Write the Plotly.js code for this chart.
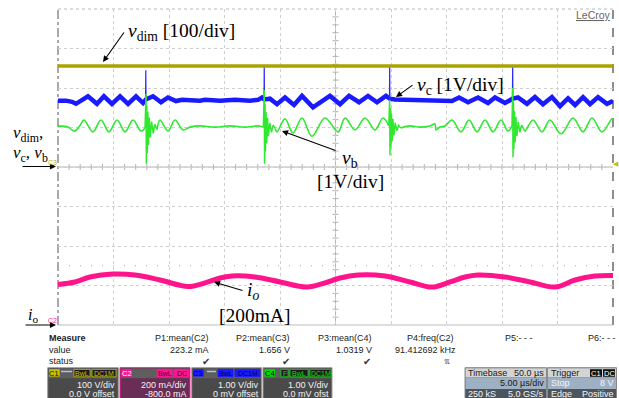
<!DOCTYPE html>
<html><head><meta charset="utf-8">
<script src="https://cdn.plot.ly/plotly-3.0.1.min.js"></script>
<style>html,body{margin:0;padding:0;background:#fff;}#chart{width:619px;height:398px;}</style>
</head><body><div id="chart"></div>
<script>
// ---------------- data (time in microseconds, values in channel units) ----------------
// C1: v_dim (V), 100 V/div, 0 V offset
const vdimT = [0, 10, 20, 30, 40, 50];
const vdimV = [256, 257, 256, 256, 257, 256];

// C3: v_c (V), 1 V/div
const vcT = [0, 0.72, 1.26, 1.62, 2.70, 3.51, 4.14, 4.86, 5.59, 6.31, 7.03, 7.66, 7.91, 8.56, 9.28, 9.91, 10.63, 11.17, 12.79, 13.24, 14.59, 15.95, 17.30, 18.02, 18.38, 18.58, 19.10, 19.73, 20.45, 21.26, 21.98, 22.97, 24.50, 25.41, 26.22, 27.12, 27.93, 28.74, 29.55, 29.88, 30.36, 31.71, 33.51, 34.86, 35.50, 36.13, 36.94, 37.84, 38.74, 39.37, 40.27, 40.96, 41.44, 42.25, 42.97, 43.69, 44.50, 45.23, 45.95, 46.58, 47.30, 47.93, 48.65, 49.46, 50];
const vcV = [1.68, 1.68, 1.65, 1.60, 1.79, 1.60, 1.79, 1.60, 1.79, 1.60, 1.79, 1.62, 1.71, 1.79, 1.64, 1.76, 1.67, 1.70, 1.68, 1.70, 1.68, 1.70, 1.68, 1.70, 1.76, 1.71, 1.73, 1.59, 1.76, 1.57, 1.80, 1.51, 1.80, 1.59, 1.80, 1.64, 1.80, 1.64, 1.80, 1.73, 1.71, 1.70, 1.71, 1.70, 1.67, 1.76, 1.64, 1.76, 1.62, 1.76, 1.62, 1.73, 1.76, 1.60, 1.77, 1.59, 1.77, 1.54, 1.74, 1.57, 1.77, 1.59, 1.77, 1.60, 1.67];
const vcSpikeT = [7.89, 7.91, 7.93, null, 18.56, 18.58, 18.60, null, 29.86, 29.88, 29.90, null, 40.94, 40.96, 40.98];
const vcSpikeV = [1.72, 2.45, 1.72, null, 1.72, 2.55, 1.72, null, 1.72, 2.55, 1.72, null, 1.72, 2.58, 1.72];

// C4: v_b (V), 1 V/div
const vbT = [0, 0.90, 1.26, 1.53, 1.98, 2.34, 3.15, 3.87, 4.59, 5.32, 6.04, 6.76, 7.48, 7.84, null, 8.93, 9.19, 9.91, 10.54, 11.26, 11.89, 12.79, 14.14, 15.50, 16.85, 18.02, 18.50, null, 19.58, 19.73, 20.45, 21.17, 21.98, 22.88, 24.05, 25.23, 25.86, 26.76, 27.66, 28.56, 29.28, 29.80, null, 30.88, 31.71, 32.61, 33.51, 33.96, 34.05, 34.41, 34.86, 35.50, 36.31, 37.03, 37.75, 38.47, 39.19, 39.91, 40.54, 40.90, null, 41.96, 42.07, 42.79, 43.60, 44.32, 45.32, 46.40, 47.30, 48.11, 49.01, 49.91, 50];
const vbV = [1.04, 1.01, 0.94, 0.91, 1.05, 1.19, 0.89, 1.19, 0.89, 1.19, 0.89, 1.19, 0.91, 0.99, null, 0.95, 1.19, 0.91, 1.19, 0.94, 1.01, 1.04, 1.01, 1.04, 1.01, 1.04, 1.01, null, 0.97, 0.89, 1.22, 0.86, 1.24, 0.78, 1.24, 0.89, 1.24, 0.94, 1.24, 0.94, 1.24, 1.04, null, 0.99, 1.04, 1.01, 1.04, 1.09, 0.94, 1.01, 1.04, 1.19, 0.89, 1.19, 0.89, 1.19, 0.89, 1.19, 0.91, 1.04, null, 0.96, 0.91, 1.19, 0.89, 1.19, 0.84, 1.24, 0.89, 1.24, 0.89, 1.22, 1.20];
const vbRingT = [7.84, 7.93, 7.96, 8.00, 8.04, 8.09, 8.15, 8.22, 8.31, 8.43, 8.58, 8.73, 8.93, null, 18.50, 18.58, 18.61, 18.65, 18.69, 18.74, 18.80, 18.87, 18.96, 19.08, 19.23, 19.38, 19.58, null, 29.80, 29.88, 29.91, 29.95, 29.99, 30.04, 30.10, 30.17, 30.26, 30.38, 30.53, 30.68, 30.88, null, 40.90, 40.96, 40.99, 41.03, 41.07, 41.12, 41.18, 41.25, 41.34, 41.46, 41.61, 41.76, 41.96];
const vbRingV = [0.99, 1.85, 0.08, 1.55, 0.35, 1.40, 0.55, 1.25, 0.75, 1.15, 0.85, 1.08, 0.95, null, 1.01, 1.95, 0.08, 1.60, 0.40, 1.40, 0.60, 1.25, 0.78, 1.12, 0.88, 1.06, 0.97, null, 1.04, 1.70, 0.30, 1.50, 0.50, 1.35, 0.65, 1.22, 0.80, 1.12, 0.92, 1.05, 0.99, null, 1.04, 2.00, 0.25, 1.65, 0.45, 1.42, 0.62, 1.27, 0.78, 1.14, 0.88, 1.06, 0.96];

// C2: i_o (mA), 200 mA/div, -800 mA offset
const ioT = [0, 1.53, 2.88, 4.95, 6.94, 9.19, 11.71, 13.24, 14.59, 15.68, 17.75, 20.00, 22.43, 24.05, 25.41, 27.03, 29.46, 31.71, 33.69, 35.32, 36.67, 37.84, 40.27, 42.52, 44.77, 46.58, 48.38, 50];
const ioV = [205, 218, 243, 258, 253, 228, 195, 213, 238, 248, 243, 218, 192, 213, 238, 253, 248, 218, 192, 218, 243, 253, 243, 218, 192, 228, 248, 251];

// measurement table
const measHeaders = ['P1:mean(C2)', 'P2:mean(C3)', 'P3:mean(C4)', 'P4:freq(C2)', 'P5:- - -', 'P6:- - -'];
const measValues = ['223.2 mA', '1.656 V', '1.0319 V', '91.412692 kHz', '', ''];

// ---------------- layout helpers (screen pixel -> paper) ----------------
const L = 58, R = 613, T = 9, B = 325;
function px(X) { return (X - L) / (R - L); }
function py(Y) { return (B - Y) / (B - T); }
const annotations = [];
const shapes = [];
const SANS = 'Liberation Sans, Arial, sans-serif';
const SERIF = 'Liberation Serif, Times New Roman, serif';
function txt(text, X, Y, o) {
  const a = Object.assign({ text: text, x: px(X), y: py(Y), xref: 'paper', yref: 'paper', showarrow: false,
    xanchor: 'left', yanchor: 'middle', borderpad: 0,
    font: { family: SANS, size: 9, color: '#222' } }, o || {});
  annotations.push(a);
}
function rect(x0, y0, x1, y1, fill, line, lw) {
  shapes.push({ type: 'rect', xref: 'paper', yref: 'paper', x0: px(x0), x1: px(x1), y0: py(y1), y1: py(y0),
    fillcolor: fill, line: { color: line || fill, width: lw === undefined ? 1 : lw }, layer: 'above' });
}
function hline(x0, x1, Y, color, width, dash) {
  shapes.push({ type: 'line', xref: 'paper', yref: 'paper', x0: px(x0), x1: px(x1), y0: py(Y), y1: py(Y),
    line: { color: color, width: width, dash: dash || 'solid' }, layer: 'above' });
}
function arrow(hx, hy, tx, ty) {
  annotations.push({ text: '', x: px(hx), y: py(hy), xref: 'paper', yref: 'paper', showarrow: true,
    ax: tx - hx, ay: ty - hy, arrowhead: 2, arrowsize: 1.1, arrowwidth: 1.1, arrowcolor: '#000', standoff: 0 });
}

// ---------------- graticule ----------------
shapes.push({ type: 'line', xref: 'paper', yref: 'paper', x0: 0, x1: 0, y0: 0, y1: 1, line: { color: '#555', width: 1, dash: 'dashdot' }, layer: 'below' });
shapes.push({ type: 'line', xref: 'paper', yref: 'paper', x0: 1, x1: 1, y0: 0, y1: 1, line: { color: '#444', width: 1.2, dash: 'dash' }, layer: 'below' });
shapes.push({ type: 'line', xref: 'paper', yref: 'paper', x0: 0, x1: 1, y0: 1, y1: 1, line: { color: '#bbb', width: 1, dash: 'dot' }, layer: 'below' });
shapes.push({ type: 'line', xref: 'paper', yref: 'paper', x0: 0, x1: 1, y0: 0, y1: 0, line: { color: '#bbb', width: 1 }, layer: 'below' });
shapes.push({ type: 'line', xref: 'paper', yref: 'paper', x0: 0, x1: 1, y0: 0.5, y1: 0.5, line: { color: '#b4b4b4', width: 1 }, layer: 'below' });
shapes.push({ type: 'line', xref: 'paper', yref: 'paper', x0: 0.5, x1: 0.5, y0: 0, y1: 1, line: { color: '#b4b4b4', width: 1 }, layer: 'below' });
shapes.push({ type: 'line', xref: 'paper', yref: 'paper', x0: 0, x1: 1, y0: 0.1875, y1: 0.1875, line: { color: '#aaa', width: 1, dash: '1px,10px' }, layer: 'below' });
for (let i = 1; i < 50; i++) {
  shapes.push({ type: 'line', xref: 'paper', yref: 'paper', x0: i / 50, x1: i / 50, y0: 0.5 - 3 / 316, y1: 0.5 + 3 / 316, line: { color: '#b4b4b4', width: 1 }, layer: 'below' });
}
for (let i = 1; i < 40; i++) {
  shapes.push({ type: 'line', xref: 'paper', yref: 'paper', x0: 0.5 - 3 / 555, x1: 0.5 + 3 / 555, y0: i / 40, y1: i / 40, line: { color: '#b4b4b4', width: 1 }, layer: 'below' });
}

// ---------------- labels ----------------
const big = { family: SERIF, size: 19.5, color: '#000' };
const mid = { family: SERIF, size: 17, color: '#000' };
txt('<i>v</i><sub>dim</sub> [100/div]', 127, 32, { font: big });
arrow(103, 62, 125, 31);
txt('<i>v</i><sub>c</sub> [1V/div]', 416, 86, { font: big });
arrow(396, 97, 414, 84);
txt('<i>v</i><sub>b</sub>', 341, 159, { font: big });
txt('[1V/div]', 316, 181, { font: big });
arrow(282, 131, 337, 151);
txt('<i>i<sub>o</sub></i>', 246, 291, { font: big });
txt('[200mA]', 218, 315, { font: big });
arrow(214, 282, 244, 291);
txt('<i>v</i><sub>dim</sub>,', 12, 134, { font: mid });
txt('<i>v</i><sub>c</sub>, <i>v</i><sub>b</sub>', 12, 153.5, { font: mid });
arrow(56, 166.5, 21, 166.5);
txt('C3', 57.5, 162.5, { xanchor: 'right', font: { family: SANS, size: 7, color: '#b8b000' } });
txt('<i>i</i><sub>o</sub>', 27, 315, { font: { family: SERIF, size: 16, color: '#000' } });
arrow(56, 325, 24, 325);
txt('C2', 57.5, 320, { xanchor: 'right', font: { family: SANS, size: 7, color: '#ff1493' } });
txt('<u>LeCroy</u>', 612, 15, { xanchor: 'right', font: { family: SANS, size: 10.5, color: '#666' } });
txt('◀', 612, 164, { font: { family: 'DejaVu Sans', size: 7, color: '#c8c000' } });

// ---------------- measurement table ----------------
txt('<b>Measure</b>', 48, 338, {});
txt('value', 48, 349.5, {});
txt('status', 48, 361, {});
const colRight = [210, 291, 373, 455, 534, 617];
measHeaders.forEach((h, i) => txt(h, colRight[i], 338, { xanchor: 'right' }));
measValues.forEach((v, i) => { if (v) txt(v, colRight[i] + (i === 3 ? 2 : 0), 349.5, { xanchor: 'right' }); });
[206, 286, 367].forEach(X => txt('✔', X, 361, { xanchor: 'center', font: { family: 'DejaVu Sans', size: 10, color: '#333' } }));
txt('ℼ', 447, 361, { xanchor: 'center', font: { family: 'DejaVu Sans', size: 8, color: '#555' } });

// ---------------- channel boxes ----------------
const W = '#f2f2f2';
function chan(x0, x1, fill, border, lbl, lblFill, lblColor, tags, row1, row2) {
  rect(x0, 367.7, x1, 402, fill, border, 1);
  rect(x0 + 1, 368.6, x1 - 1, 378.2, '#5e5e5e', '#5e5e5e', 0);
  rect(x0 + 1.5, 369.2, x0 + 12, 376.6, lblFill, lblFill, 0);
  txt(lbl, x0 + 6.7, 373, { xanchor: 'center', font: { family: SANS, size: 7.5, color: lblColor } });
  tags.forEach(t => {
    rect(t.a, 369.4, t.b, 376.8, t.fill, t.line, 0.8);
    txt(t.text, (t.a + t.b) / 2, 373.1, { xanchor: 'center', font: { family: SANS, size: 7, color: t.color } });
  });
  txt(row1, x1 - 2, 385, { xanchor: 'right', font: { family: SANS, size: 9, color: W } });
  txt(row2, x1 - 2, 393.8, { xanchor: 'right', font: { family: SANS, size: 9, color: W } });
}
chan(47.7, 118.3, '#4a4a4a', '#9a9a9a', 'C1', '#c8c000', '#111', [
  { a: 74, b: 90, text: 'BwL', fill: '#1c1c1c', line: '#c8c000', color: '#c8c000' },
  { a: 92, b: 116, text: 'DC1M', fill: '#1c1c1c', line: '#c8c000', color: '#c8c000' }],
  '100 V/div', '0.0 V offset');
hline(61, 72, 371.5, '#a8c4e0', 1.5);
chan(120, 190, '#6a2d55', '#ff1493', 'C2', '#ff1493', '#fff', [
  { a: 157, b: 172, text: 'BwL', fill: '#ff1493', line: '#ff1493', color: '#4a0030' },
  { a: 174, b: 189, text: 'DC', fill: '#ff1493', line: '#ff1493', color: '#4a0030' }],
  '200 mA/div', '-800.0 mA');
chan(191.7, 261.7, '#4a4a4a', '#9a9a9a', 'C3', '#1a1aff', '#000070', [
  { a: 218, b: 233, text: 'BwL', fill: '#1a1aff', line: '#1a1aff', color: '#000050' },
  { a: 235, b: 260, text: 'DC1M', fill: '#1a1aff', line: '#1a1aff', color: '#000050' }],
  '1.00 V/div', '0 mV offset');
hline(207, 216, 371.5, '#a8c4e0', 1.5);
chan(263, 332, '#4a4a4a', '#9a9a9a', 'C4', '#00e000', '#000', [
  { a: 281, b: 288, text: 'F', fill: '#1c1c1c', line: '#00e000', color: '#00e000' },
  { a: 290, b: 308, text: 'BwL', fill: '#1c1c1c', line: '#00e000', color: '#00e000' },
  { a: 310, b: 331, text: 'DC1M', fill: '#1c1c1c', line: '#00e000', color: '#00e000' }],
  '1.00 V/div', '0.0 mV ofst');

// timebase / trigger boxes
function info(x0, x1, h1l, h1r, r1l, r1r, r2l, r2r, tags) {
  rect(x0, 367.7, x1, 402, '#4e545c', '#8a8a8a', 1);
  rect(x0 + 0.5, 368.2, x1 - 0.5, 377.6, '#d4d4d4', '#d4d4d4', 0);
  rect(x0 + 0.5, 377.6, x1 - 0.5, 389, '#9eb0c4', '#9eb0c4', 0);
  txt(h1l, x0 + 2, 372.8, { font: { family: SANS, size: 9, color: '#222' } });
  if (h1r) txt(h1r, x1 - 1.5, 372.8, { xanchor: 'right', font: { family: SANS, size: 9, color: '#222' } });
  if (r1l) txt(r1l, x0 + 2, 383.5, { font: { family: SANS, size: 9, color: '#f4f4f4' } });
  txt(r1r, x1 - 1.5, 383.5, { xanchor: 'right', font: { family: SANS, size: 9, color: r1l ? '#f4f4f4' : '#1a1a1a' } });
  txt(r2l, x0 + 2, 393.8, { font: { family: SANS, size: 9, color: '#f4f4f4' } });
  txt(r2r, x1 - 1.5, 393.8, { xanchor: 'right', font: { family: SANS, size: 9, color: '#f4f4f4' } });
  (tags || []).forEach(t => {
    rect(t.a, 369.2, t.b, 376.8, '#111', '#111', 0);
    txt(t.text, (t.a + t.b) / 2, 373, { xanchor: 'center', font: { family: SANS, size: 7.5, color: '#fff' } });
  });
}
info(465, 546.5, 'Timebase', '50.0 µs', '', '5.00 µs/div', '250 kS', '5.0 GS/s');
info(547.5, 616.5, 'Trigger', '', 'Stop', '8 V', 'Edge', 'Positive',
  [{ a: 590, b: 602, text: 'C1' }, { a: 603, b: 615, text: 'DC' }]);

// ---------------- traces ----------------
const traces = [
  { x: vdimT, y: vdimV, yaxis: 'y4', mode: 'lines', line: { color: '#aaa300', width: 3.5 }, name: 'v_dim' },
  { x: vcT, y: vcV, yaxis: 'y', mode: 'lines', line: { color: '#1a1aff', width: 4.5 }, name: 'v_c' },
  { x: vcSpikeT, y: vcSpikeV, yaxis: 'y', mode: 'lines', line: { color: '#2a2aff', width: 1.2 }, name: 'v_c spikes', connectgaps: false },
  { x: vbT, y: vbV, yaxis: 'y2', mode: 'lines', line: { color: '#30e830', width: 1.6, shape: 'spline', smoothing: 1 }, name: 'v_b', connectgaps: false },
  { x: vbRingT, y: vbRingV, yaxis: 'y2', mode: 'lines', line: { color: '#30e830', width: 1.5 }, name: 'v_b ringing', connectgaps: false },
  { x: ioT, y: ioV, yaxis: 'y3', mode: 'lines', line: { color: '#ff148c', width: 5, shape: 'spline', smoothing: 1 }, name: 'i_o' }
];

const grid = { showgrid: true, gridcolor: '#cfcfcf', griddash: 'dot', gridwidth: 1, zeroline: false, showticklabels: false, ticks: '', showline: false, fixedrange: true };
const layout = {
  width: 619, height: 398,
  margin: { l: 58, r: 6, t: 9, b: 73, pad: 0 },
  paper_bgcolor: '#fff', plot_bgcolor: '#fff',
  showlegend: false,
  xaxis: Object.assign({ range: [0, 50], dtick: 5, tick0: 0 }, grid),
  yaxis: Object.assign({ range: [-4, 4], dtick: 1, tick0: 0 }, grid),
  yaxis2: { overlaying: 'y', range: [-4, 4], visible: false, fixedrange: true },
  yaxis3: { overlaying: 'y', range: [0, 1600], visible: false, fixedrange: true },
  yaxis4: { overlaying: 'y', range: [-400, 400], visible: false, fixedrange: true },
  shapes: shapes,
  annotations: annotations
};
Plotly.newPlot('chart', traces, layout, { staticPlot: true, displayModeBar: false });
</script></body></html>
